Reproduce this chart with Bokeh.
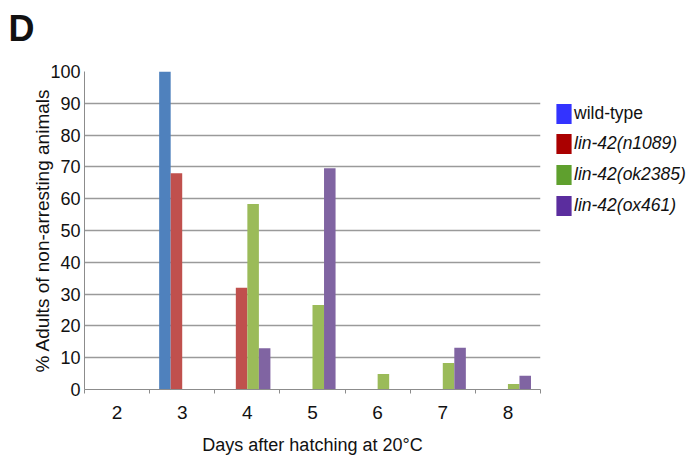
from bokeh.plotting import figure
from bokeh.models import Range1d, FixedTicker, ColumnDataSource, Legend, LegendItem, Title
from bokeh.layouts import row
from bokeh.transform import dodge
from bokeh.embed import file_html
from bokeh.resources import INLINE

# Days after hatching and the percentage of adults for each strain
days = [2, 3, 4, 5, 6, 7, 8]
wild_type = [0, 100, 0, 0, 0, 0, 0]
n1089 = [0, 68, 32, 0, 0, 0, 0]
ok2385 = [0, 0, 58.3, 26.6, 4.9, 8.3, 1.7]
ox461 = [0, 0, 13, 69.6, 0, 13.1, 4.3]

series_names = ["wild-type", "lin-42(n1089)", "lin-42(ok2385)", "lin-42(ox461)"]
bar_colors = ["#4F81BD", "#C0504D", "#9BBB59", "#8064A2"]
key_colors = ["#3333FF", "#AA0000", "#5FA02E", "#5B2D9E"]
y_ticks = [0, 10, 20, 30, 40, 50, 60, 70, 80, 90, 100]

src = ColumnDataSource(dict(day=days, wt=wild_type, n1089=n1089, ok2385=ok2385, ox461=ox461))

FONT = "Liberation Sans"
NARROW = "Liberation Sans Narrow, Arial Narrow, Liberation Sans"
INK = "#111111"
AXIS_GREY = "#8C8C8C"

p = figure(width=550, height=460, output_backend="svg", toolbar_location=None, title=None,
           x_range=Range1d(1.5, 8.5), y_range=Range1d(0, 100),
           min_border_left=84, min_border_right=10, min_border_top=71, min_border_bottom=71,
           background_fill_color="white", border_fill_color="white")
p.outline_line_color = None

# panel letter, held up above the chart by an empty spacer title
p.add_layout(Title(text=" ", text_font_size="2px", standoff=16), "above")
p.add_layout(Title(text="D", text_font=FONT, text_font_style="bold", text_font_size="36px",
                   text_color=INK, align="left", offset=-76, standoff=2, vertical_align="top"),
             "above")

bw = 0.177
offsets = [-1.5 * bw, -0.5 * bw, 0.5 * bw, 1.5 * bw]
fields = ["wt", "n1089", "ok2385", "ox461"]
for f, off, c in zip(fields, offsets, bar_colors):
    p.vbar(x=dodge("day", off, range=p.x_range), top=f, width=bw, bottom=0,
           source=src, fill_color=c, line_color=None)

# y axis
p.yaxis.ticker = FixedTicker(ticks=y_ticks)
p.yaxis.axis_line_color = AXIS_GREY
p.yaxis.major_tick_line_color = None
p.yaxis.major_tick_out = 0
p.yaxis.major_tick_in = 0
p.yaxis.minor_tick_line_color = None
p.yaxis.major_label_standoff = 4
p.yaxis.major_label_text_font = NARROW
p.yaxis.major_label_text_font_size = "18px"
p.yaxis.major_label_text_color = INK
p.yaxis.axis_label = "% Adults of non-arresting animals"
p.yaxis.axis_label_text_font = FONT
p.yaxis.axis_label_text_font_size = "19px"
p.yaxis.axis_label_text_font_style = "normal"
p.yaxis.axis_label_text_color = INK
p.yaxis.axis_label_standoff = -6

# x axis: labels at day centres, small ticks on the group boundaries
p.xaxis.ticker = FixedTicker(ticks=days, minor_ticks=[d - 0.5 for d in days] + [days[-1] + 0.5])
p.xaxis.axis_line_color = AXIS_GREY
p.xaxis.major_tick_line_color = None
p.xaxis.major_tick_out = 0
p.xaxis.major_tick_in = 0
p.xaxis.minor_tick_line_color = AXIS_GREY
p.xaxis.minor_tick_out = 4
p.xaxis.minor_tick_in = 0
p.xaxis.major_label_standoff = 12
p.xaxis.major_label_text_font = NARROW
p.xaxis.major_label_text_font_size = "19px"
p.xaxis.major_label_text_color = INK
p.xaxis.axis_label = "Days after hatching at 20°C"
p.xaxis.axis_label_text_font = FONT
p.xaxis.axis_label_text_font_size = "18px"
p.xaxis.axis_label_text_font_style = "normal"
p.xaxis.axis_label_text_color = INK
p.xaxis.axis_label_standoff = 13

p.xgrid.grid_line_color = None
p.ygrid.ticker = FixedTicker(ticks=y_ticks)
p.ygrid.grid_line_color = "#9A9A9A"
p.ygrid.grid_line_width = 1.5

# legend panel to the right of the chart (its frame lines up with the chart's)
k = figure(width=140, height=460, output_backend="svg", toolbar_location=None, title=None,
           x_range=Range1d(0, 1), y_range=Range1d(0, 1),
           x_axis_location=None, y_axis_location=None,
           min_border_left=0, min_border_right=0, min_border_top=71, min_border_bottom=71,
           background_fill_color="white", border_fill_color="white")
k.outline_line_color = None
k.grid.grid_line_color = None

# legend swatches use their own, more saturated colours; the glyphs have zero height
key_renderers = [k.vbar(x=[0.5], top=[0], bottom=[0], width=0.1, fill_color=c, line_color=None)
                 for c in key_colors]

leg1 = Legend(items=[LegendItem(label=series_names[0], renderers=[key_renderers[0]])],
              location=(4, 263))
leg2 = Legend(items=[LegendItem(label=n, renderers=[r]) for n, r in zip(series_names[1:], key_renderers[1:])],
              location=(4, 171))
for lg in (leg1, leg2):
    lg.glyph_width = 19
    lg.glyph_height = 25
    lg.label_height = 25
    lg.label_standoff = 1
    lg.spacing = 6
    lg.padding = 0
    lg.margin = 0
    lg.border_line_color = None
    lg.background_fill_alpha = 0
    lg.label_text_font = FONT
    lg.label_text_font_size = "17.5px"
    lg.label_text_color = INK
leg2.label_text_font_style = "italic"
k.add_layout(leg1)
k.add_layout(leg2)

layout = row(p, k, spacing=0)
open("out.html", "w").write(file_html(layout, INLINE))
